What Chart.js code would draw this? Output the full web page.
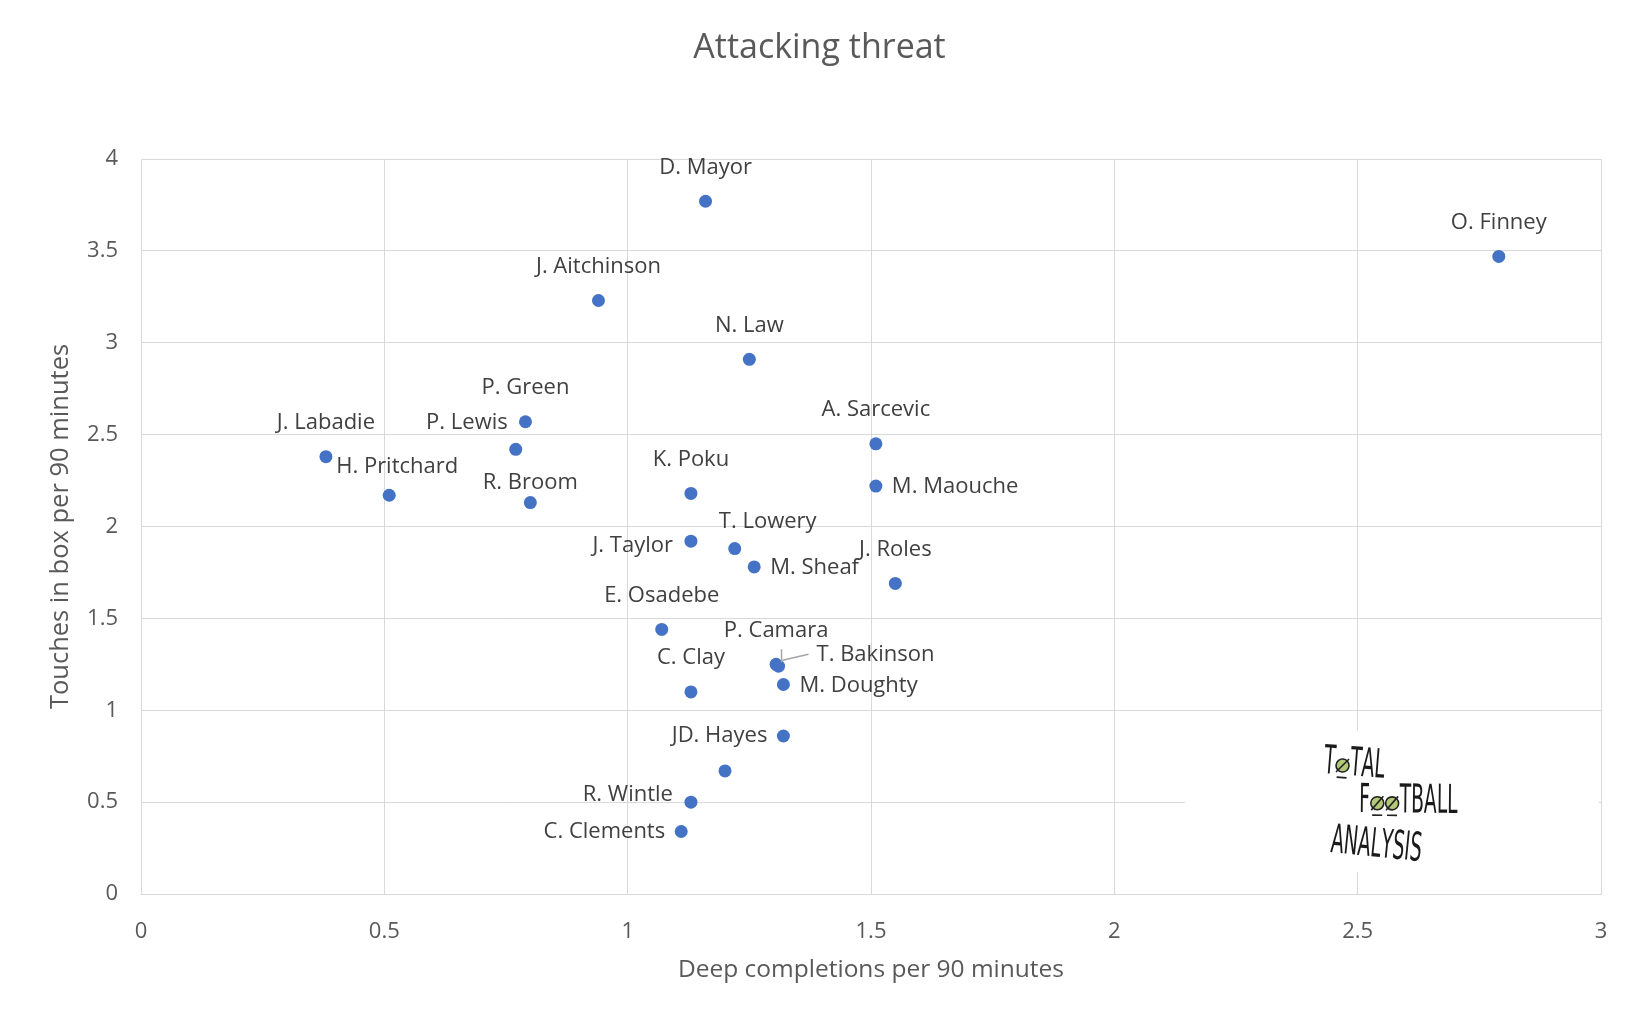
<!DOCTYPE html>
<html>
<head>
    <title>Attacking threat</title>
    <script src="https://cdn.jsdelivr.net/npm/chart.js"></script>
    <style>
      body { margin: 0; background: #fff; overflow: hidden; }
    </style>
</head>
<body>
    <canvas id="threatChart" width="1639" height="1014"></canvas>

    <script>
    // player data
    const players = ['D. Mayor', 'O. Finney', 'J. Aitchinson', 'N. Law', 'P. Green', 'P. Lewis',
      'J. Labadie', 'H. Pritchard', 'R. Broom', 'A. Sarcevic', 'M. Maouche', 'K. Poku',
      'J. Taylor', 'T. Lowery', 'M. Sheaf', 'J. Roles', 'E. Osadebe', 'P. Camara',
      'T. Bakinson', 'M. Doughty', 'C. Clay', 'JD. Hayes', '', 'R. Wintle', 'C. Clements'];
    const deepCompletions = [1.16, 2.79, 0.94, 1.25, 0.79, 0.77, 0.38, 0.51, 0.80, 1.51, 1.51, 1.13,
      1.13, 1.22, 1.26, 1.55, 1.07, 1.305, 1.31, 1.32, 1.13, 1.32, 1.20, 1.13, 1.11];
    const boxTouches = [3.77, 3.47, 3.23, 2.91, 2.57, 2.42, 2.38, 2.17, 2.13, 2.45, 2.22, 2.18,
      1.92, 1.88, 1.78, 1.69, 1.44, 1.25, 1.24, 1.14, 1.10, 0.86, 0.67, 0.50, 0.34];
    // where each name sits relative to its dot
    const labelPlacement = ['top', 'top', 'top', 'top', 'top', 'leftUp',
      'top', 'topShift', 'topClose', 'top', 'right', 'top',
      'leftLow', 'topRight', 'right', 'top', 'top', 'top',
      'leader', 'right', 'top', 'left', 'none', 'leftHigh', 'left'];

    const xTitle = 'Deep completions per 90 minutes';
    const yTitle = 'Touches in box per 90 minutes';

    const points = deepCompletions.map((x, i) => ({ x: x, y: boxTouches[i] }));

    const textColor = '#595959';
    const gridColor = '#D9D9D9';
    Chart.defaults.font.family = '"Open Sans", sans-serif';

    const placements = {
      top:      { dx: 0,   dy: -34, align: 'center' },
      topClose: { dx: 0,   dy: -20, align: 'center' },
      topShift: { dx: 8,   dy: -29, align: 'center' },
      topRight: { dx: 33,  dy: -27, align: 'center' },
      left:     { dx: -16, dy: 0,   align: 'right' },
      leftLow:  { dx: -18, dy: 5,   align: 'right' },
      leftHigh: { dx: -18, dy: -7,  align: 'right' },
      leftUp:   { dx: -8,  dy: -27, align: 'right' },
      right:    { dx: 16,  dy: 1,   align: 'left' },
      leader:   { dx: 38,  dy: -11, align: 'left' }
    };

    const pointLabels = {
      id: 'pointLabels',
      afterDatasetsDraw(chart) {
        const ctx = chart.ctx;
        const meta = chart.getDatasetMeta(0);
        ctx.save();
        ctx.font = '22px "Open Sans", sans-serif';
        ctx.fillStyle = '#404040';
        ctx.textBaseline = 'middle';
        meta.data.forEach((pt, i) => {
          const p = placements[labelPlacement[i]];
          if (!p || !players[i]) return;
          ctx.textAlign = p.align;
          ctx.fillText(players[i], pt.x + p.dx, pt.y + p.dy);
          if (labelPlacement[i] === 'leader') {
            ctx.strokeStyle = '#A6A6A6';
            ctx.lineWidth = 1.5;
            ctx.beginPath();
            ctx.moveTo(pt.x + 30, pt.y + p.dy - 1);
            ctx.lineTo(pt.x + 4, pt.y - 6);
            ctx.moveTo(pt.x + 3, pt.y - 17);
            ctx.lineTo(pt.x + 3, pt.y - 4);
            ctx.stroke();
          }
        });
        ctx.restore();
      }
    };

    // watermark in the lower right corner
    const watermark = {
      id: 'watermark',
      beforeDatasetsDraw(chart) {
        const ctx = chart.ctx;
        const xs = chart.scales.x, ys = chart.scales.y;
        const left = xs.getPixelForValue(2.145), right = xs.getPixelForValue(2.995);
        const top = ys.getPixelForValue(0.89), bottom = ys.getPixelForValue(0.12);
        ctx.save();
        ctx.fillStyle = '#fff';
        ctx.fillRect(left, top, right - left, bottom - top);

        const words = [
          { text: 'TOTAL', x: 1323, y: 773, rot: 0.08, balls: true },
          { text: 'FOOTBALL', x: 1359, y: 812, rot: 0.01, balls: true },
          { text: 'ANALYSIS', x: 1330, y: 852, rot: 0.1, balls: false }
        ];
        ctx.font = '40px "DejaVu Sans", sans-serif';
        ctx.textBaseline = 'alphabetic';
        ctx.textAlign = 'left';
        words.forEach(w => {
          ctx.save();
          ctx.translate(w.x, w.y);
          ctx.rotate(w.rot);
          let cx = 0;
          for (const ch of w.text) {
            const adv = ctx.measureText(ch).width * 0.47;
            if (ch === 'O' && w.balls) {
              ctx.beginPath();
              ctx.arc(cx + adv / 2, -9, 6.5, 0, Math.PI * 2);
              ctx.fillStyle = '#B3C978';
              ctx.fill();
              ctx.strokeStyle = '#222';
              ctx.lineWidth = 1.6;
              ctx.stroke();
              ctx.beginPath();
              ctx.moveTo(cx + adv / 2 - 6, -2);
              ctx.lineTo(cx + adv / 2 + 6, -16);
              ctx.stroke();
              ctx.beginPath();
              ctx.moveTo(cx + adv / 2 - 5, 3);
              ctx.lineTo(cx + adv / 2 + 5, 3);
              ctx.stroke();
            } else {
              ctx.save();
              ctx.translate(cx, 0);
              ctx.scale(0.47, 1);
              ctx.fillStyle = '#1a1a1a';
              ctx.fillText(ch, 0, 0);
              ctx.restore();
            }
            cx += adv;
          }
          ctx.restore();
        });
        ctx.restore();
      }
    };

    new Chart(document.getElementById('threatChart'), {
      type: 'scatter',
      data: {
        datasets: [{
          data: points,
          backgroundColor: '#4472C4',
          borderColor: '#4472C4',
          borderWidth: 0,
          pointRadius: 6.5,
          pointHoverRadius: 6.5
        }]
      },
      options: {
        responsive: false,
        devicePixelRatio: 1,
        animation: false,
        layout: { padding: 0 },
        plugins: {
          legend: { display: false },
          tooltip: { enabled: false },
          title: {
            display: true,
            text: 'Attacking threat',
            color: textColor,
            font: { size: 34, weight: 'normal' },
            padding: { top: 27.6, bottom: 90.6 }
          }
        },
        scales: {
          x: {
            type: 'linear',
            min: 0,
            max: 3,
            ticks: { stepSize: 0.5, color: textColor, font: { size: 22 }, padding: 25, callback: v => String(v) },
            grid: { color: gridColor, drawTicks: false },
            border: { color: gridColor },
            title: { display: true, text: xTitle, color: textColor, font: { size: 24.5 }, padding: { top: 0, bottom: 29.3 } },
            afterFit(scale) { scale.height = 120; }
          },
          y: {
            type: 'linear',
            min: 0,
            max: 4,
            ticks: { stepSize: 0.5, color: textColor, font: { size: 22 }, padding: 23, callback: v => String(v) },
            grid: { color: gridColor, drawTicks: false },
            border: { color: gridColor },
            title: { display: true, text: yTitle, color: textColor, font: { size: 25.5 }, padding: { top: 45.3, bottom: 0 } },
            afterFit(scale) { scale.width = 141; }
          },
          // empty right-hand gutter so the title stays centred on the page
          gutter: {
            type: 'linear',
            position: 'right',
            display: true,
            ticks: { display: false },
            grid: { display: false, drawTicks: false },
            border: { display: false },
            afterFit(scale) { scale.width = 38; }
          }
        }
      },
      plugins: [watermark, pointLabels]
    });
    </script>
</body>
</html>
